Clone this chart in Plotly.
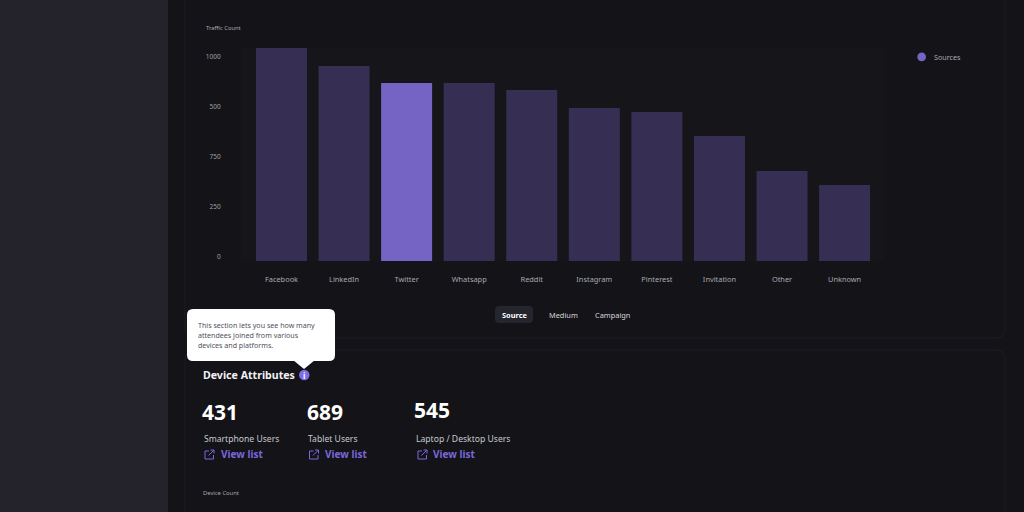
import plotly.graph_objects as go

categories = ["Facebook", "LinkedIn", "Twitter", "Whatsapp", "Reddit", "Instagram", "Pinterest", "Invitation", "Other", "Unknown"]
traffic = [1065, 975, 890, 890, 855, 765, 745, 625, 450, 380]
highlight = "Twitter"
y_ticks = [0, 250, 500, 750, 1000]
y_labels = ["0", "250", "750", "500", "1000"]
tabs = ["Source", "Medium", "Campaign"]
device_counts = ["431", "689", "545"]
device_names = ["Smartphone Users", "Tablet Users", "Laptop / Desktop Users"]

W, H = 1024, 512
FONT = "Noto Sans"
BG = "#131318"
PANEL = "#24232c"
BORDER = "#1d1d23"
PURPLE = "#7664c4"
DIM = "#372f53"
LINK = "#7a68dc"


def px(x):
    return x / W


def py(y):
    return 1 - y / H


def rrect(x0, y0, x1, y1, r):
    X0, X1, Y0, Y1 = px(x0), px(x1), py(y0), py(y1)
    rx, ry = r / W, r / H
    return (f"M{X0+rx},{Y0} L{X1-rx},{Y0} Q{X1},{Y0} {X1},{Y0-ry} L{X1},{Y1+ry} Q{X1},{Y1} {X1-rx},{Y1} "
            f"L{X0+rx},{Y1} Q{X0},{Y1} {X0},{Y1+ry} L{X0},{Y0-ry} Q{X0},{Y0} {X0+rx},{Y0} Z")


def poly(points, close=False):
    s = "M" + " L".join(f"{px(a)},{py(b)}" for a, b in points)
    return s + (" Z" if close else "")


shapes = []
annotations = []


def add_path(path, fill="rgba(0,0,0,0)", line="rgba(0,0,0,0)", width=1, layer="below"):
    shapes.append(dict(type="path", xref="paper", yref="paper", path=path, fillcolor=fill,
                       line=dict(color=line, width=width), layer=layer))


def text(x, y, s, size, color, anchor="left", bold=False):
    annotations.append(dict(xref="paper", yref="paper", x=px(x), y=py(y), text=f"<b>{s}</b>" if bold else s,
                            showarrow=False, xanchor=anchor, yanchor="middle",
                            font=dict(family=FONT, size=size, color=color), borderpad=0, borderwidth=0))


# page furniture
add_path(poly([(0, 0), (168, 0), (168, 512), (0, 512)], True), fill=PANEL)
add_path(rrect(185, -30, 1005, 338, 10), line=BORDER)
add_path(rrect(185, 350, 1005, 560, 10), line=BORDER)

# tabs
add_path(rrect(495, 306, 533, 323, 4), fill="#25252d")
tab_x = [514, 563.5, 612.5]
for i, t in enumerate(tabs):
    text(tab_x[i], 314.5, t, 7.4, "#ffffff" if i == 0 else "#d6d6da", "center", bold=i == 0)

# tooltip
add_path(rrect(187, 309, 335, 361, 6), fill="#ffffff", layer="above")
add_path(poly([(293, 360), (315, 360), (304, 369)], True), fill="#ffffff", layer="above")
for i, t in enumerate(["This section lets you see how many", "attendees joined from various", "devices and platforms."]):
    text(198, 325.3 + i * 10, t, 7.1, "#50505c")

# section heading
text(203, 375, "Device Attributes", 10.6, "#f2f2f4", bold=True)
shapes.append(dict(type="circle", xref="paper", yref="paper", x0=px(299), x1=px(309.5), y0=py(380.2), y1=py(369.8),
                   fillcolor="#7d6ce6", line=dict(width=0), layer="above"))
text(304.2, 375, "i", 8, "#ffffff", "center", bold=True)

# device stats
num_x = [202, 307, 414]
num_y = [411.8, 411.8, 409.8]
name_x = [203.5, 308, 415.5]
link_x = [220.5, 324.5, 433]
icon_x = [205, 309.5, 418]
for i in range(3):
    text(num_x[i], num_y[i], device_counts[i], 21, "#ffffff", bold=True)
    text(name_x[i], 439.3, device_names[i], 8.6, "#c9c9cf")
    text(link_x[i], 454, "View list", 10, LINK, bold=True)
    a = icon_x[i]
    add_path(poly([(a + 4, 451), (a, 451), (a, 459), (a + 8.5, 459), (a + 8.5, 455)]), line=LINK, width=1, layer="above")
    add_path(poly([(a + 3.5, 455.5), (a + 9, 450)]), line=LINK, width=1, layer="above")
    add_path(poly([(a + 5.5, 450), (a + 9, 450), (a + 9, 453.5)]), line=LINK, width=1, layer="above")

text(206, 28, "Traffic Count", 5.8, "#a9a9b0")
text(202.5, 493, "Device Count", 5.8, "#a9a9b0")

# legend entry
shapes.append(dict(type="circle", xref="paper", yref="paper", x0=px(917.3), x1=px(926), y0=py(61.3), y1=py(52.6),
                   fillcolor=PURPLE, line=dict(width=0), layer="above"))
text(934, 57.3, "Sources", 7.2, "#a9a9b0")

fig = go.Figure()
fig.add_trace(go.Bar(
    x=categories, y=traffic, width=0.815, showlegend=False, name="Sources",
    marker=dict(color=[PURPLE if c == highlight else DIM for c in categories], line=dict(width=0)),
))
fig.update_layout(
    width=W, height=H, autosize=False,
    margin=dict(l=0, r=0, t=0, b=0),
    paper_bgcolor=BG, plot_bgcolor="#15151a",
    font=dict(family=FONT, color="#a9a9b0"),
    shapes=shapes, annotations=annotations, bargap=0.185,
    xaxis=dict(domain=[px(241), px(884)], range=[-0.647, 9.63], showgrid=False, zeroline=False, automargin=False,
               showline=False, ticks="outside", ticklen=11, tickcolor="rgba(0,0,0,0)", tickangle=0,
               tickfont=dict(family=FONT, size=7.4, color="#a9a9b0")),
    yaxis=dict(domain=[py(261), py(48)], range=[0, 1065], showgrid=False, zeroline=False, automargin=False,
               showline=False, tickvals=y_ticks, ticktext=y_labels, ticks="outside", ticklen=18,
               tickcolor="rgba(0,0,0,0)", ticklabelshift=-4,
               tickfont=dict(family=FONT, size=6.5, color="#a0a0a6")),
)
fig.write_html("out.html", config=dict(displayModeBar=False),
               post_script="document.body.style.margin='0';document.body.style.background='#131318';")
